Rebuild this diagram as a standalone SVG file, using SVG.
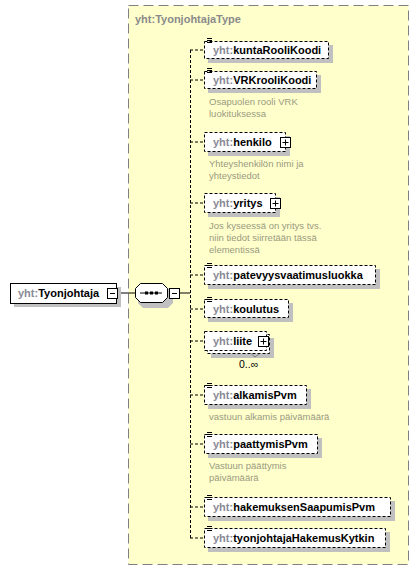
<svg xmlns="http://www.w3.org/2000/svg" width="419" height="570" viewBox="0 0 419 570">
<defs>
<style>
.el{fill:#fff;stroke:#000;stroke-width:1;stroke-dasharray:3,2}
.sh{fill:#c0c0c0}
.nm{font-family:"Liberation Sans",Arial,sans-serif;font-size:11px;font-weight:bold;fill:#000}
.ns{fill:#8a8a96}
.doc{font-family:"Liberation Sans",Arial,sans-serif;font-size:9.5px;fill:#9a9a80}
.con{stroke:#000;stroke-width:1;stroke-dasharray:3,2;fill:none}
.ico{fill:#fff;stroke:#000;stroke-width:1}
.icl{stroke:#000;stroke-width:1}
</style>
<g id="eq"><path d="M0,0.5h5M0,2.5h5M0,4.5h5" stroke="#000" stroke-width="1"/></g>
<g id="plus"><rect class="ico" x="-5" y="-5" width="10" height="10"/><path class="icl" d="M-3,0h6M0,-3v6"/></g>
</defs>
<g id="type">
<rect x="128.5" y="5.5" width="280" height="559" fill="#ffffcc" stroke="#808080" stroke-dasharray="10,5"/>
<text x="135" y="23" class="nm" fill="#808080" style="fill:#8a8a8a">yht:TyonjohtajaType</text>
</g>
<g id="connectors">
<path d="M117,293H135M180,293H190" stroke="#000"/>
<path class="con" d="M190.5,50V538"/>
<path class="con" d="M190,50H204M190,80H204M190,142H204M190,203H204M190,275H204M190,309H204M190,341H204M190,395H204M190,444H204M190,507H204M190,538H204"/>
</g>
<g id="root">
<rect class="sh" x="14" y="287" width="107" height="20"/>
<rect x="10.5" y="283.5" width="106" height="20" fill="#fff" stroke="#000"/>
<text x="18" y="297" class="nm"><tspan class="ns">yht:</tspan>Tyonjohtaja</text>
<rect class="ico" x="107.5" y="288.5" width="10" height="10"/><path class="icl" d="M110,293.5h5"/>
</g>
<g id="sequence">
<path class="sh" d="M143,288H168L173,293V303L168,308H143L138,303V293Z"/>
<path d="M140.5,283.5H162.5L167.5,288.5V297.5L162.5,302.5H140.5L135.5,297.5V288.5Z" fill="#fff" stroke="#000"/>
<path d="M140,293H162" stroke="#000"/>
<rect x="145" y="291.5" width="3" height="3"/><rect x="150" y="291.5" width="3" height="3"/><rect x="155" y="291.5" width="3" height="3"/>
<rect class="ico" x="169.5" y="288.5" width="10" height="10"/><path class="icl" d="M172,293.5h5"/>
</g>
<g id="kuntaRooliKoodi">
<rect class="sh" x="208" y="45" width="125" height="18"/>
<rect class="el" x="204.5" y="41.5" width="124" height="17"/>
<use href="#eq" x="207" y="38"/>
<text x="213" y="54" class="nm"><tspan class="ns">yht:</tspan>kuntaRooliKoodi</text>
</g>
<g id="VRKrooliKoodi">
<rect class="sh" x="208" y="75" width="113" height="18"/>
<rect class="el" x="204.5" y="71.5" width="112" height="17"/>
<use href="#eq" x="207" y="68"/>
<text x="213" y="84" class="nm"><tspan class="ns">yht:</tspan>VRKrooliKoodi</text>
<text x="209" y="105" class="doc">Osapuolen rooli VRK</text>
<text x="209" y="117" class="doc">luokituksessa</text>
</g>
<g id="henkilo">
<rect class="sh" x="208" y="136" width="82" height="20"/>
<rect class="el" x="204.5" y="132.5" width="81" height="19"/>
<text x="213" y="146" class="nm"><tspan class="ns">yht:</tspan>henkilo</text>
<use href="#plus" x="285.5" y="142.5"/>
<text x="209" y="167" class="doc">Yhteyshenkilön nimi ja</text>
<text x="209" y="179" class="doc">yhteystiedot</text>
</g>
<g id="yritys">
<rect class="sh" x="208" y="197" width="72" height="20"/>
<rect class="el" x="204.5" y="193.5" width="71" height="19"/>
<text x="213" y="207" class="nm"><tspan class="ns">yht:</tspan>yritys</text>
<use href="#plus" x="275.5" y="203.5"/>
<text x="209" y="229" class="doc">Jos kyseessä on yritys tvs.</text>
<text x="209" y="241" class="doc">niin tiedot siirretään tässä</text>
<text x="209" y="253" class="doc">elementissä</text>
</g>
<g id="patevyysvaatimusluokka">
<rect class="sh" x="208" y="269" width="172" height="20"/>
<rect class="el" x="204.5" y="265.5" width="171" height="19"/>
<use href="#eq" x="207" y="263"/>
<text x="213" y="279" class="nm"><tspan class="ns">yht:</tspan>patevyysvaatimusluokka</text>
</g>
<g id="koulutus">
<rect class="sh" x="208" y="303" width="85" height="19"/>
<rect class="el" x="204.5" y="299.5" width="84" height="18"/>
<use href="#eq" x="207" y="297"/>
<text x="213" y="313" class="nm"><tspan class="ns">yht:</tspan>koulutus</text>
</g>
<g id="liite">
<rect class="sh" x="211" y="338" width="63" height="20"/>
<rect class="el" x="207.5" y="334.5" width="62" height="19"/>
<rect class="el" x="204.5" y="331.5" width="62" height="19" style="stroke-dasharray:3,2"/>
<text x="213" y="345" class="nm"><tspan class="ns">yht:</tspan>liite</text>
<use href="#plus" x="263.5" y="341.5"/>
<path d="M251,353.5L255,357L259,354" fill="none" stroke="#808080"/>
<text x="239" y="368" class="nm" style="font-weight:normal;font-size:10.5px">0..∞</text>
</g>
<g id="alkamisPvm">
<rect class="sh" x="208" y="389" width="103" height="20"/>
<rect class="el" x="204.5" y="385.5" width="102" height="19"/>
<use href="#eq" x="207" y="383"/>
<text x="213" y="399" class="nm"><tspan class="ns">yht:</tspan>alkamisPvm</text>
<text x="209" y="420" class="doc">vastuun alkamis päivämäärä</text>
</g>
<g id="paattymisPvm">
<rect class="sh" x="208" y="438" width="114" height="20"/>
<rect class="el" x="204.5" y="434.5" width="113" height="19"/>
<use href="#eq" x="207" y="432"/>
<text x="213" y="448" class="nm"><tspan class="ns">yht:</tspan>paattymisPvm</text>
<text x="209" y="469" class="doc">Vastuun päättymis</text>
<text x="209" y="481" class="doc">päivämäärä</text>
</g>
<g id="hakemuksenSaapumisPvm">
<rect class="sh" x="208" y="501" width="187" height="20"/>
<rect class="el" x="204.5" y="497.5" width="186" height="19"/>
<use href="#eq" x="207" y="495"/>
<text x="213" y="511" class="nm"><tspan class="ns">yht:</tspan>hakemuksenSaapumisPvm</text>
</g>
<g id="tyonjohtajaHakemusKytkin">
<rect class="sh" x="208" y="532" width="182" height="20"/>
<rect class="el" x="204.5" y="528.5" width="181" height="19"/>
<use href="#eq" x="207" y="526"/>
<text x="213" y="542" class="nm"><tspan class="ns">yht:</tspan>tyonjohtajaHakemusKytkin</text>
</g>
</svg>
